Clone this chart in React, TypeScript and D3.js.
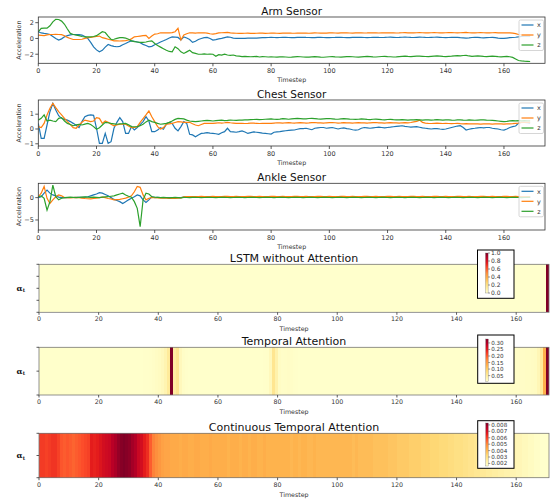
import React from "react";
import * as d3 from "d3";

// ---- data ----
const timestepTicks = [0, 20, 40, 60, 80, 100, 120, 140, 160];
const armTicks = [-2, 0, 2];
const chestTicks = [-1, 0, 1];
const ankleTicks = [-5, 0];

const armX = [
  0.85, 0.7, 0.64, 0.6, 0.5, 0.25, 0.0, -0.2, -0.05, 0.2,
  0.35, 0.45, 0.5, 0.5, 0.48, 0.43, 0.25, 0.0, -0.5, -1.06,
  -1.45, -1.7, -1.5, -1.1, -0.77, -0.9, -1.0, -1.05, -1.0, -0.8,
  -0.64, -0.45, -0.3, -0.35, -0.45, -0.55, -0.75, -0.9, -1.06, -1.0,
  -0.8, -0.64, -0.45, -0.3, -0.13, 0.05, 0.2, 0.18, 0.13, -0.2,
  0.2, 0.05, -0.13, -0.5, -0.35, -0.13, 0.0, 0.1, 0.13, 0.0,
  -0.2, -0.15, -0.05, 0.0, 0.1, 0.2, 0.15, 0.05, 0.0, 0.0,
  0.0, 0.02, 0.05, 0.05, 0.05, 0.05, 0.08, 0.1, 0.1, 0.12,
  0.13, 0.12, 0.1, 0.12, 0.14, 0.13, 0.12, 0.1, 0.11, 0.13,
  0.14, 0.15, 0.13, 0.12, 0.1, 0.11, 0.13, 0.14, 0.12, 0.1,
  0.1, 0.12, 0.13, 0.15, 0.14, 0.12, 0.1, 0.11, 0.13, 0.15,
  0.14, 0.13, 0.12, 0.1, 0.12, 0.14, 0.15, 0.13, 0.12, 0.13,
  0.15, 0.16, 0.14, 0.12, 0.13, 0.15, 0.17, 0.15, 0.13, 0.12,
  0.14, 0.16, 0.15, 0.13, 0.12, 0.14, 0.15, 0.16, 0.14, 0.12,
  0.1, 0.12, 0.14, 0.15, 0.13, 0.1, 0.08, 0.05, 0.08, 0.12,
  0.14, 0.13, 0.1, 0.08, 0.1, 0.12, 0.13, 0.1, 0.05, 0.02,
  0.0, 0.05, 0.1, 0.12, 0.15, 0.2, 0.25, 0.28, 0.3, 0.3,
];
const armY = [
  0.43, 0.4, 0.35, 0.45, 0.5, 0.5, 0.52, 0.5, 0.48, 0.35,
  0.13, 0.0, -0.13, -0.13, -0.13, -0.1, 0.0, 0.1, 0.13, 0.2,
  0.25, 0.3, 0.1, 0.0, -0.1, -0.2, -0.3, -0.3, -0.32, -0.3,
  -0.28, -0.2, -0.05, 0.2, 0.25, 0.3, 0.35, 0.4, 0.0, 0.3,
  0.55, 0.6, 0.72, 0.7, 0.72, 0.7, 0.75, 0.85, 1.28, -0.2,
  0.43, 0.6, 0.72, 0.7, 0.68, 0.72, 0.7, 0.72, 0.68, 0.6,
  0.55, 0.62, 0.7, 0.72, 0.75, 0.77, 0.7, 0.68, 0.66, 0.65,
  0.64, 0.66, 0.67, 0.65, 0.64, 0.66, 0.68, 0.67, 0.65, 0.66,
  0.67, 0.68, 0.66, 0.65, 0.67, 0.68, 0.69, 0.67, 0.66, 0.68,
  0.69, 0.68, 0.67, 0.66, 0.68, 0.7, 0.69, 0.68, 0.67, 0.68,
  0.7, 0.71, 0.69, 0.68, 0.7, 0.71, 0.7, 0.69, 0.68, 0.7,
  0.71, 0.7, 0.69, 0.7, 0.72, 0.71, 0.7, 0.69, 0.7, 0.71,
  0.72, 0.71, 0.7, 0.69, 0.7, 0.72, 0.73, 0.71, 0.7, 0.71,
  0.72, 0.73, 0.72, 0.7, 0.71, 0.72, 0.73, 0.72, 0.71, 0.7,
  0.72, 0.73, 0.74, 0.72, 0.71, 0.72, 0.74, 0.76, 0.72, 0.7,
  0.71, 0.72, 0.73, 0.72, 0.7, 0.71, 0.72, 0.73, 0.71, 0.7,
  0.71, 0.72, 0.7, 0.68, 0.62, 0.5, 0.45, 0.43, 0.43, 0.43,
];
const armZ = [
  0.85, 1.28, 1.3, 1.3, 1.6, 2.1, 2.43, 2.4, 2.2, 1.8,
  1.2, 0.64, 0.5, 0.43, 0.35, 0.25, 0.2, 0.2, 0.2, 0.25,
  0.35, 0.6, 0.85, 0.75, 0.3, -0.13, -0.1, 0.0, 0.1, 0.1,
  0.05, -0.1, -0.3, -0.4, -0.45, -0.5, -0.5, -0.45, -0.35, -0.3,
  -0.64, -0.9, -1.1, -1.3, -1.5, -1.65, -1.7, -1.06, -1.3, -1.7,
  -1.9, -1.7, -1.5, -1.8, -1.9, -2.0, -2.0, -1.95, -2.0, -1.98,
  -2.0, -2.25, -2.05, -2.1, -2.0, -2.1, -2.15, -2.1, -2.2, -2.25,
  -2.3, -2.28, -2.3, -2.32, -2.3, -2.28, -2.35, -2.3, -2.32, -2.35,
  -2.33, -2.35, -2.37, -2.34, -2.32, -2.35, -2.38, -2.36, -2.33, -2.3,
  -2.32, -2.35, -2.37, -2.36, -2.33, -2.31, -2.33, -2.36, -2.38, -2.35,
  -2.32, -2.3, -2.33, -2.35, -2.37, -2.34, -2.31, -2.3, -2.32, -2.35,
  -2.36, -2.33, -2.3, -2.28, -2.3, -2.33, -2.35, -2.32, -2.29, -2.27,
  -2.3, -2.32, -2.35, -2.33, -2.3, -2.27, -2.25, -2.28, -2.3, -2.27,
  -2.25, -2.23, -2.26, -2.29, -2.3, -2.27, -2.24, -2.22, -2.25, -2.28,
  -2.3, -2.27, -2.24, -2.2, -2.18, -2.2, -2.16, -2.15, -2.22, -2.28,
  -2.25, -2.22, -2.25, -2.28, -2.3, -2.27, -2.24, -2.26, -2.3, -2.33,
  -2.3, -2.28, -2.32, -2.4, -2.6, -2.8, -2.85, -2.88, -2.9, -2.92,
];

const chestX = [
  0.38, -0.63, -0.63, 0.27, 1.17, 1.73, 1.28, 0.9, 0.72, 0.65,
  0.6, 0.5, 0.38, 0.25, 0.1, 0.5, 0.83, 0.92, 0.95, 0.92,
  0.05, -0.97, -0.97, -0.3, -0.97, -0.86, 0.05, 0.45, 0.77, 0.5,
  -0.3, -0.3, 0.16, -0.07, 0.1, 0.3, 0.5, 0.83, 0.54, -0.18,
  -0.18, -0.07, 0.09, -0.02, 0.32, 0.45, 0.38, 0.05, -0.13, 0.16,
  0.5, 0.38, -0.36, -0.4, -0.52, -0.4, -0.3, -0.28, -0.25, -0.28,
  -0.3, -0.32, -0.36, -0.25, -0.18, 0.05, -0.18, -0.2, -0.22, -0.18,
  -0.13, -0.2, -0.3, -0.25, -0.2, -0.22, -0.25, -0.28, -0.3, -0.32,
  -0.34, -0.22, -0.2, -0.18, -0.15, -0.12, -0.1, -0.08, -0.07, -0.02,
  0.02, 0.03, 0.05, 0.0, -0.05, 0.05, 0.08, 0.1, 0.1, 0.05,
  0.08, 0.1, 0.05, 0.0, 0.05, 0.08, 0.02, 0.0, -0.05, -0.07,
  -0.05, 0.05, 0.1, 0.08, 0.05, 0.08, 0.1, 0.12, 0.1, 0.08,
  0.1, 0.12, 0.15, 0.18, 0.2, 0.22, 0.18, 0.15, 0.12, 0.14,
  0.16, 0.12, 0.08, 0.05, 0.02, 0.0, 0.02, 0.03, 0.0, -0.02,
  0.0, 0.05, 0.1, 0.15, 0.2, 0.22, 0.1, -0.07, -0.02, 0.03,
  0.05, 0.08, 0.1, 0.08, 0.1, 0.1, 0.05, 0.02, 0.0, -0.05,
  -0.07, 0.0, 0.1, 0.16, 0.2, 0.38, 0.45, 0.45, 0.42, 0.4,
];
const chestY = [
  0.16, 0.1, 0.38, 0.95, 1.4, 1.73, 1.44, 1.17, 0.95, 0.72,
  0.5, 0.3, 0.09, 0.05, 0.27, 0.45, 0.6, 0.55, 0.5, 0.54,
  0.77, 0.72, 0.38, 0.54, 0.45, 0.32, 0.22, 0.28, 0.32, 0.32,
  0.32, 0.2, 0.09, 0.1, 0.16, 0.45, 0.7, 0.95, 1.22, 0.83,
  0.5, 0.16, 0.0, 0.09, 0.32, 0.35, 0.38, 0.44, 0.5, 0.48,
  0.45, 0.45, 0.45, 0.35, 0.27, 0.22, 0.3, 0.38, 0.38, 0.38,
  0.38, 0.4, 0.42, 0.4, 0.42, 0.45, 0.42, 0.4, 0.38, 0.38,
  0.38, 0.37, 0.38, 0.4, 0.39, 0.38, 0.37, 0.38, 0.38, 0.38,
  0.38, 0.4, 0.42, 0.41, 0.4, 0.42, 0.43, 0.41, 0.4, 0.42,
  0.43, 0.42, 0.4, 0.41, 0.43, 0.44, 0.42, 0.41, 0.4, 0.42,
  0.43, 0.44, 0.42, 0.4, 0.41, 0.43, 0.42, 0.41, 0.4, 0.42,
  0.43, 0.42, 0.41, 0.4, 0.42, 0.43, 0.44, 0.42, 0.41, 0.4,
  0.42, 0.43, 0.42, 0.41, 0.4, 0.42, 0.43, 0.42, 0.44, 0.48,
  0.52, 0.6, 0.45, 0.4, 0.38, 0.37, 0.38, 0.39, 0.38, 0.37,
  0.38, 0.37, 0.36, 0.37, 0.38, 0.36, 0.35, 0.36, 0.35, 0.34,
  0.35, 0.34, 0.33, 0.34, 0.35, 0.34, 0.33, 0.34, 0.35, 0.34,
  0.33, 0.34, 0.35, 0.36, 0.38, 0.4, 0.45, 0.45, 0.45, 0.45,
];
const chestZ = [
  0.6, 0.72, 0.95, 0.54, 0.6, 0.54, 0.5, 0.72, 0.77, 0.54,
  0.38, 0.3, 0.22, 0.28, 0.32, 0.27, 0.33, 0.38, 0.3, 0.16,
  -0.02, 0.09, 0.27, 0.45, 0.42, 0.38, 0.35, 0.32, 0.35, 0.36,
  0.38, 0.28, 0.16, 0.15, 0.16, 0.22, 0.32, 0.48, 0.6, 0.5,
  0.45, 0.38, 0.32, 0.35, 0.38, 0.45, 0.54, 0.65, 0.72, 0.7,
  0.68, 0.6, 0.54, 0.52, 0.5, 0.52, 0.54, 0.56, 0.58, 0.56,
  0.54, 0.56, 0.58, 0.6, 0.57, 0.58, 0.6, 0.59, 0.58, 0.6,
  0.6, 0.62, 0.61, 0.63, 0.64, 0.65, 0.63, 0.64, 0.66, 0.67,
  0.68, 0.66, 0.65, 0.67, 0.7, 0.68, 0.66, 0.68, 0.7, 0.72,
  0.7, 0.68, 0.69, 0.71, 0.72, 0.7, 0.68, 0.67, 0.69, 0.7,
  0.71, 0.69, 0.67, 0.66, 0.68, 0.7, 0.69, 0.67, 0.66, 0.65,
  0.66, 0.68, 0.67, 0.65, 0.64, 0.66, 0.67, 0.65, 0.63, 0.62,
  0.64, 0.65, 0.63, 0.62, 0.61, 0.63, 0.62, 0.6, 0.61, 0.62,
  0.63, 0.62, 0.6, 0.61, 0.62, 0.6, 0.61, 0.63, 0.62, 0.6,
  0.61, 0.62, 0.6, 0.59, 0.61, 0.62, 0.6, 0.59, 0.61, 0.6,
  0.59, 0.6, 0.61, 0.62, 0.6, 0.59, 0.58, 0.56, 0.54, 0.52,
  0.5, 0.52, 0.55, 0.56, 0.55, 0.56, 0.55, 0.56, 0.55, 0.55,
];

const ankleX = [
  0.0, 0.2, 1.0, 1.7, 1.0, 0.6, 0.4, 0.1, 0.0, 0.0,
  0.0, 0.02, 0.03, 0.05, 0.05, 0.05, 0.1, 0.2, 0.4, 0.6,
  0.8, 1.1, 1.0, 0.7, 0.4, 0.0, -0.4, -0.65, -0.9, -1.3,
  -0.9, -0.5, -0.15, 0.2, 0.6, 0.4, -0.5, -1.1, -0.5, 0.2,
  0.0, 0.05, 0.02, 0.0, -0.02, 0.0, 0.02, 0.0, -0.02, 0.0,
  0.1, 0.12, 0.1, 0.15, 0.12, 0.1, 0.12, 0.15, 0.13, 0.12,
  0.1, 0.12, 0.14, 0.12, 0.1, 0.13, 0.15, 0.12, 0.1, 0.12,
  0.13, 0.15, 0.12, 0.1, 0.12, 0.14, 0.12, 0.1, 0.12, 0.13,
  0.15, 0.12, 0.1, 0.12, 0.14, 0.12, 0.1, 0.12, 0.13, 0.15,
  0.12, 0.1, 0.12, 0.14, 0.12, 0.1, 0.12, 0.13, 0.15, 0.12,
  0.1, 0.12, 0.14, 0.12, 0.1, 0.12, 0.13, 0.15, 0.12, 0.1,
  0.12, 0.14, 0.12, 0.1, 0.12, 0.13, 0.15, 0.12, 0.1, 0.12,
  0.14, 0.12, 0.1, 0.12, 0.13, 0.15, 0.12, 0.1, 0.12, 0.14,
  0.12, 0.1, 0.12, 0.13, 0.15, 0.12, 0.1, 0.12, 0.14, 0.12,
  0.1, 0.12, 0.13, 0.15, 0.12, 0.1, 0.12, 0.14, 0.12, 0.1,
  0.12, 0.13, 0.15, 0.12, 0.1, 0.12, 0.14, 0.12, 0.1, 0.12,
  0.13, 0.15, 0.12, 0.1, 0.12, 0.14, 0.12, 0.1, 0.12, 0.12,
];
const ankleY = [
  0.2, 1.0, 2.5, -0.15, -1.3, -0.5, 0.2, 0.6, 0.4, 0.0,
  0.0, -0.05, 0.0, 0.05, 0.0, -0.1, -0.2, -0.25, -0.3, -0.2,
  -0.1, 0.0, 0.1, 0.0, -0.2, -0.3, -0.5, -0.45, -0.4, -0.25,
  -0.1, 0.1, 0.4, 1.3, 2.5, 2.3, 0.6, -0.5, -0.15, 0.0,
  0.0, -0.05, -0.1, -0.05, -0.1, -0.15, -0.1, -0.15, -0.1, -0.05,
  0.15, 0.2, 0.25, 0.22, 0.2, 0.25, 0.28, 0.25, 0.22, 0.25,
  0.27, 0.25, 0.22, 0.25, 0.28, 0.26, 0.24, 0.25, 0.27, 0.25,
  0.22, 0.25, 0.28, 0.26, 0.24, 0.25, 0.27, 0.25, 0.22, 0.25,
  0.28, 0.26, 0.24, 0.25, 0.27, 0.25, 0.22, 0.25, 0.28, 0.26,
  0.24, 0.25, 0.27, 0.25, 0.22, 0.25, 0.28, 0.26, 0.24, 0.25,
  0.27, 0.25, 0.22, 0.25, 0.28, 0.26, 0.24, 0.25, 0.27, 0.25,
  0.22, 0.25, 0.28, 0.26, 0.24, 0.25, 0.27, 0.25, 0.22, 0.25,
  0.28, 0.26, 0.24, 0.25, 0.27, 0.25, 0.22, 0.25, 0.28, 0.26,
  0.24, 0.25, 0.27, 0.25, 0.22, 0.25, 0.28, 0.26, 0.24, 0.25,
  0.27, 0.25, 0.22, 0.25, 0.28, 0.26, 0.24, 0.25, 0.27, 0.25,
  0.22, 0.25, 0.28, 0.26, 0.24, 0.25, 0.27, 0.25, 0.22, 0.25,
  0.28, 0.26, 0.24, 0.25, 0.27, 0.25, 0.22, 0.25, 0.25, 0.25,
];
const ankleZ = [
  0.2, 0.4, -0.15, -2.8, -0.9, 2.8, 0.2, -0.5, -0.15, 0.0,
  0.05, 0.1, 0.05, 0.0, 0.05, 0.1, 0.15, 0.1, 0.05, 0.1,
  0.05, 0.0, 0.1, 0.15, 0.2, 0.3, 0.4, 0.6, 0.8, 1.0,
  0.6, 0.3, 0.1, -0.9, -2.4, -6.5, -0.5, 1.0, 0.8, 0.2,
  0.1, 0.05, 0.0, 0.05, 0.0, -0.05, 0.0, 0.05, 0.0, -0.05,
  0.05, 0.02, 0.0, 0.04, 0.06, 0.03, 0.0, 0.02, 0.05, 0.04,
  0.02, 0.0, 0.03, 0.05, 0.04, 0.02, 0.0, 0.03, 0.06, 0.04,
  0.02, 0.0, 0.03, 0.05, 0.04, 0.02, 0.0, 0.03, 0.05, 0.04,
  0.02, 0.0, 0.03, 0.05, 0.04, 0.02, 0.0, 0.03, 0.05, 0.04,
  0.02, 0.0, 0.03, 0.05, 0.04, 0.02, 0.0, 0.03, 0.05, 0.04,
  0.02, 0.0, 0.03, 0.05, 0.04, 0.02, 0.0, 0.03, 0.05, 0.04,
  0.02, 0.0, 0.03, 0.05, 0.04, 0.02, 0.0, 0.03, 0.05, 0.04,
  0.02, 0.0, 0.03, 0.05, 0.04, 0.02, 0.0, 0.03, 0.05, 0.04,
  0.02, 0.0, 0.03, 0.05, 0.04, 0.02, 0.0, 0.03, 0.05, 0.04,
  0.02, 0.0, 0.03, 0.05, 0.04, 0.02, 0.0, 0.03, 0.05, 0.04,
  0.02, 0.0, 0.03, 0.05, 0.04, 0.02, 0.0, 0.03, 0.05, 0.04,
  0.02, 0.0, 0.03, 0.05, 0.04, 0.02, 0.0, 0.03, 0.04, 0.04,
];

// attention weights per timestep (171 cells)
const lstmAttention = [
  0, 0, 0, 0, 0, 0, 0, 0, 0, 0, 0, 0, 0, 0, 0, 0, 0, 0, 0, 0,
  0, 0, 0, 0, 0, 0, 0, 0, 0, 0, 0, 0, 0, 0, 0, 0, 0, 0, 0, 0,
  0, 0, 0, 0, 0, 0, 0, 0, 0, 0, 0, 0, 0, 0, 0, 0, 0, 0, 0, 0,
  0, 0, 0, 0, 0, 0, 0, 0, 0, 0, 0, 0, 0, 0, 0, 0, 0, 0, 0, 0,
  0, 0, 0, 0, 0, 0, 0, 0, 0, 0, 0, 0, 0, 0, 0, 0, 0, 0, 0, 0,
  0, 0, 0, 0, 0, 0, 0, 0, 0, 0, 0, 0, 0, 0, 0, 0, 0, 0, 0, 0,
  0, 0, 0, 0, 0, 0, 0, 0, 0, 0, 0, 0, 0, 0, 0, 0, 0, 0, 0, 0,
  0, 0, 0, 0, 0, 0, 0, 0, 0, 0, 0, 0, 0, 0, 0, 0, 0, 0, 0, 0,
  0, 0, 0, 0, 0, 0, 0, 0, 0, 0, 1.0,
];
const temporalAttention = [
  0.006, 0.006, 0.006, 0.006, 0.006, 0.006, 0.006, 0.006, 0.006, 0.006,
  0.006, 0.006, 0.006, 0.006, 0.006, 0.006, 0.006, 0.006, 0.006, 0.006,
  0.006, 0.006, 0.006, 0.006, 0.006, 0.006, 0.006, 0.006, 0.006, 0.006,
  0.006, 0.006, 0.006, 0.006, 0.006, 0.007, 0.007, 0.008, 0.01, 0.012,
  0.015, 0.02, 0.03, 0.05, 0.33, 0.045, 0.06, 0.02, 0.01, 0.007,
  0.006, 0.006, 0.006, 0.006, 0.006, 0.006, 0.006, 0.006, 0.006, 0.006,
  0.006, 0.006, 0.006, 0.006, 0.006, 0.006, 0.006, 0.006, 0.006, 0.006,
  0.006, 0.006, 0.006, 0.006, 0.006, 0.007, 0.008, 0.02, 0.06, 0.035,
  0.012, 0.009, 0.01, 0.011, 0.01, 0.008, 0.007, 0.006, 0.006, 0.006,
  0.006, 0.006, 0.006, 0.006, 0.006, 0.006, 0.006, 0.006, 0.006, 0.006,
  0.006, 0.006, 0.006, 0.006, 0.006, 0.006, 0.006, 0.006, 0.006, 0.006,
  0.006, 0.006, 0.006, 0.006, 0.006, 0.006, 0.006, 0.006, 0.006, 0.006,
  0.006, 0.006, 0.006, 0.006, 0.006, 0.006, 0.006, 0.006, 0.006, 0.006,
  0.006, 0.006, 0.006, 0.006, 0.006, 0.006, 0.006, 0.006, 0.006, 0.006,
  0.006, 0.006, 0.006, 0.006, 0.006, 0.006, 0.006, 0.006, 0.006, 0.006,
  0.006, 0.006, 0.007, 0.007, 0.007, 0.008, 0.008, 0.009, 0.009, 0.01,
  0.01, 0.011, 0.011, 0.012, 0.012, 0.013, 0.015, 0.025, 0.05, 0.13,
  0.33,
];
const continuousAttention = [
  0.0061, 0.0061, 0.006, 0.0061, 0.0062, 0.0062, 0.006, 0.0057, 0.0056, 0.0057,
  0.0056, 0.0055, 0.0056, 0.0057, 0.0058, 0.0059, 0.006, 0.0066, 0.0065, 0.0066,
  0.0068, 0.007, 0.0071, 0.0072, 0.0075, 0.0077, 0.008, 0.0082, 0.0083, 0.0082,
  0.0081, 0.0078, 0.0076, 0.0072, 0.007, 0.0066, 0.0063, 0.0056, 0.0051, 0.0049,
  0.0047, 0.0045, 0.0044, 0.0044, 0.0043, 0.0043, 0.0043, 0.0042, 0.0043, 0.0043,
  0.0042, 0.0042, 0.0043, 0.0043, 0.0042, 0.0042, 0.0042, 0.0043, 0.0042, 0.0042,
  0.0042, 0.0042, 0.0042, 0.0041, 0.0042, 0.0042, 0.0042, 0.0041, 0.0042, 0.0042,
  0.0041, 0.0042, 0.0042, 0.0041, 0.0041, 0.0042, 0.0041, 0.0041, 0.0041, 0.0041,
  0.0041, 0.0041, 0.0041, 0.0041, 0.004, 0.0041, 0.0041, 0.004, 0.0041, 0.0041,
  0.004, 0.004, 0.0041, 0.004, 0.004, 0.004, 0.004, 0.004, 0.004, 0.004,
  0.004, 0.004, 0.004, 0.004, 0.004, 0.0039, 0.004, 0.0039, 0.0039, 0.0039,
  0.0039, 0.0039, 0.0038, 0.0038, 0.0038, 0.0038, 0.0038, 0.0037, 0.0037, 0.0037,
  0.0036, 0.0036, 0.0036, 0.0036, 0.0035, 0.0035, 0.0035, 0.0035, 0.0034, 0.0034,
  0.0034, 0.0033, 0.0033, 0.0033, 0.0032, 0.0032, 0.0032, 0.0031, 0.0031, 0.003,
  0.003, 0.003, 0.0029, 0.0029, 0.0028, 0.0028, 0.0027, 0.0027, 0.0026, 0.0026,
  0.0025, 0.0025, 0.0024, 0.0024, 0.0023, 0.0023, 0.0022, 0.0022, 0.0021, 0.0021,
  0.002, 0.002, 0.0019, 0.0019, 0.0018, 0.0018, 0.0017, 0.0017, 0.0016, 0.0016,
  0.0016,
];

const lstmTicks = [0.0, 0.2, 0.4, 0.6, 0.8, 1.0];
const temporalTicks = [0.05, 0.1, 0.15, 0.2, 0.25, 0.3];
const continuousTicks = [0.002, 0.003, 0.004, 0.005, 0.006, 0.007, 0.008];

// ---- styling ----
const FONT = "DejaVu Sans, sans-serif";
const COLORS = ["#1f77b4", "#ff7f0e", "#2ca02c"];
const YLORRD = ["#ffffcc", "#ffeda0", "#fed976", "#feb24c", "#fd8d3c", "#fc4e2a", "#e31a1c", "#bd0026", "#800026"];

const fmt = (v: number) => (v < 0 ? "\u2212" + Math.abs(v) : String(v));

function cmap(domain: [number, number]) {
  const stops = YLORRD.map((_, k) => domain[0] + (k * (domain[1] - domain[0])) / (YLORRD.length - 1));
  return d3.scaleLinear<string>().domain(stops).range(YLORRD).clamp(true);
}

function SensorPanel(props: any) {
  const { id, title, top, bottom, yDomain, yTicks, series } = props;
  const left = 38.3;
  const right = 545;
  const x = d3.scaleLinear().domain([0, 174.1]).range([left, right]);
  const y = d3.scaleLinear().domain(yDomain).range([bottom, top]);
  const line = d3
    .line<number>()
    .x((_, i) => x(i))
    .y((d) => y(d));
  const names = ["x", "y", "z"];
  const lgTop = top + 3;
  return (
    <g fontFamily={FONT}>
      <clipPath id={id}>
        <rect x={left} y={top} width={right - left} height={bottom - top} />
      </clipPath>
      <g clipPath={`url(#${id})`}>
        {series.map((s: number[], k: number) => (
          <path key={k} d={line(s) || ""} fill="none" stroke={COLORS[k]} strokeWidth={1.2} />
        ))}
      </g>
      <rect x={left} y={top} width={right - left} height={bottom - top} fill="none" stroke="#333" strokeWidth={0.8} />
      {timestepTicks.map((t) => (
        <g key={t}>
          <line x1={x(t)} x2={x(t)} y1={bottom} y2={bottom + 3} stroke="#333" strokeWidth={0.8} />
          <text x={x(t)} y={bottom + 10} fontSize={6.5} textAnchor="middle" fill="#333">
            {t}
          </text>
        </g>
      ))}
      {yTicks.map((t: number) => (
        <g key={t}>
          <line x1={left - 3} x2={left} y1={y(t)} y2={y(t)} stroke="#333" strokeWidth={0.8} />
          <text x={left - 4.5} y={y(t) + 2.3} fontSize={6.5} textAnchor="end" fill="#333">
            {fmt(t)}
          </text>
        </g>
      ))}
      <text x={(left + right) / 2} y={top - 2.5} fontSize={10.5} textAnchor="middle" fill="#111">
        {title}
      </text>
      <text x={(left + right) / 2} y={bottom + 18.5} fontSize={6.3} textAnchor="middle" fill="#333">
        Timestep
      </text>
      <text
        transform={`translate(20.5,${(top + bottom) / 2}) rotate(-90)`}
        fontSize={6.3}
        textAnchor="middle"
        fill="#333"
      >
        Acceleration
      </text>
      <rect x={519} y={lgTop} width={24.5} height={30.5} rx={1.5} fill="white" fillOpacity={0.8} stroke="#cccccc" strokeWidth={0.8} />
      {names.map((n, k) => (
        <g key={n}>
          <line x1={521.5} x2={533.5} y1={lgTop + 5 + k * 10} y2={lgTop + 5 + k * 10} stroke={COLORS[k]} strokeWidth={1.2} />
          <text x={539} y={lgTop + 7.3 + k * 10} fontSize={6.5} textAnchor="middle" fill="#333">
            {n}
          </text>
        </g>
      ))}
    </g>
  );
}

function Colorbar(props: any) {
  const { id, box, barTop, barBottom, domain, ticks, digits, fontSize } = props;
  const barX = box[0] + 8;
  const s = d3.scaleLinear().domain(domain).range([barBottom, barTop]);
  return (
    <g fontFamily={FONT}>
      <defs>
        <linearGradient id={id} x1="0" y1="1" x2="0" y2="0">
          {YLORRD.map((c, k) => (
            <stop key={k} offset={`${(k / (YLORRD.length - 1)) * 100}%`} stopColor={c} />
          ))}
        </linearGradient>
      </defs>
      <rect x={box[0]} y={box[1]} width={box[2] - box[0]} height={box[3] - box[1]} fill="white" stroke="#000" strokeWidth={1} />
      <rect x={barX} y={barTop} width={2.6} height={barBottom - barTop} fill={`url(#${id})`} stroke="#666" strokeWidth={0.3} />
      {ticks.map((t: number) => (
        <g key={t}>
          <line x1={barX + 2.6} x2={barX + 4.5} y1={s(t)} y2={s(t)} stroke="#333" strokeWidth={0.5} />
          <text x={barX + 5.5} y={s(t) + 2} fontSize={fontSize} fill="#333">
            {t.toFixed(digits)}
          </text>
        </g>
      ))}
    </g>
  );
}

function Heatmap(props: any) {
  const { title, top, bottom, values, domain, yTickCount } = props;
  const left = 39;
  const right = 549;
  const x = d3.scaleLinear().domain([0, values.length]).range([left, right]);
  const color = cmap(domain);
  const yTicks = d3.range(yTickCount).map((k) => top + (k * (bottom - top)) / (yTickCount - 1));
  return (
    <g fontFamily={FONT}>
      <g shapeRendering="crispEdges">
        {values.map((v: number, i: number) => (
          <rect
            key={i}
            x={x(i)}
            y={top}
            width={i === values.length - 1 ? x(i + 1) - x(i) : x(i + 1) - x(i) + 1}
            height={bottom - top}
            fill={color(v)}
          />
        ))}
      </g>
      <rect x={left} y={top} width={right - left} height={bottom - top} fill="none" stroke="#777" strokeWidth={0.8} />
      {timestepTicks.map((t) => (
        <g key={t}>
          <line x1={x(t)} x2={x(t)} y1={bottom} y2={bottom + 2.5} stroke="#333" strokeWidth={0.8} />
          <text x={x(t)} y={bottom + 8.8} fontSize={6.3} textAnchor="middle" fill="#333">
            {t}
          </text>
        </g>
      ))}
      {yTicks.map((yy, k) => (
        <line key={k} x1={left - 2.5} x2={left} y1={yy} y2={yy} stroke="#333" strokeWidth={0.8} />
      ))}
      <text x={(left + right) / 2} y={top - 2} fontSize={11} textAnchor="middle" fill="#111">
        {title}
      </text>
      <text x={(left + right) / 2} y={bottom + 19} fontSize={6.3} textAnchor="middle" fill="#333">
        Timestep
      </text>
      <text x={16.5} y={(top + bottom) / 2 + 2.5} fontSize={8} fontWeight="bold" fontFamily="DejaVu Serif, serif" fill="#111">
        {"\u03b1"}
        <tspan fontSize={5} dy={1.5}>
          t
        </tspan>
      </text>
    </g>
  );
}

export default function App() {
  return (
    <svg
      width={555}
      height={502}
      viewBox="0 0 555 502"
      style={{ position: "absolute", left: 0, top: 0, background: "white" }}
    >
      <rect width={555} height={502} fill="white" />
      <SensorPanel id="arm" title="Arm Sensor" top={17} bottom={63.3} yDomain={[-3.15, 2.72]} yTicks={armTicks} series={[armX, armY, armZ]} />
      <SensorPanel id="chest" title="Chest Sensor" top={100} bottom={146} yDomain={[-1.15, 1.96]} yTicks={chestTicks} series={[chestX, chestY, chestZ]} />
      <SensorPanel id="ankle" title="Ankle Sensor" top={183.3} bottom={230} yDomain={[-7.24, 3.2]} yTicks={ankleTicks} series={[ankleX, ankleY, ankleZ]} />

      <Heatmap title="LSTM without Attention" top={264.3} bottom={312.3} values={lstmAttention} domain={[0, 1]} yTickCount={5} />
      <Colorbar id="cb1" box={[477.5, 250, 514, 298.3]} barTop={253} barBottom={293} domain={[0, 1]} ticks={lstmTicks} digits={1} fontSize={6} />

      <Heatmap title="Temporal Attention" top={347.3} bottom={395} values={temporalAttention} domain={[0.005, 0.33]} yTickCount={3} />
      <Colorbar id="cb2" box={[477.7, 335, 514, 383.3]} barTop={339} barBottom={381.5} domain={[0.005, 0.33]} ticks={temporalTicks} digits={2} fontSize={5.6} />

      <Heatmap title="Continuous Temporal Attention" top={433.3} bottom={477.7} values={continuousAttention} domain={[0.0016, 0.0083]} yTickCount={3} />
      <Colorbar id="cb3" box={[477.7, 420.7, 514, 468.3]} barTop={423} barBottom={466} domain={[0.0016, 0.0083]} ticks={continuousTicks} digits={3} fontSize={5.6} />
    </svg>
  );
}
